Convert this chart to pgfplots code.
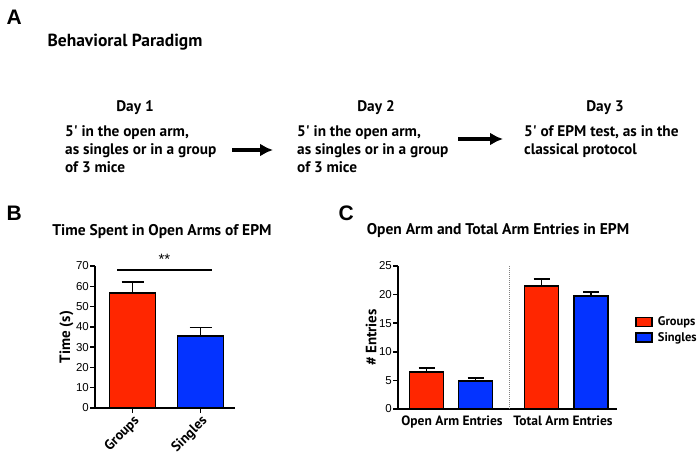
\documentclass[border=0pt]{standalone}
\usepackage{pgfplots}
\pgfplotsset{compat=1.18}
\usetikzlibrary{arrows.meta}
\usepackage{fontspec}
\setmainfont{PT Sans}
\newfontfamily\arialf{Liberation Sans}
\definecolor{gred}{HTML}{FF2600}
\definecolor{gblue}{HTML}{0433FF}
\newcommand{\q}{\textquotesingle}
\begin{document}
\begin{tikzpicture}
\useasboundingbox (0,0) rectangle (700pt,-455pt);
% Panel A
\node[anchor=west,font=\arialf\bfseries\fontsize{21}{24}\selectfont] at (3pt,-17pt) {A};
\node[anchor=west,font=\bfseries\fontsize{17.5}{20}\selectfont] at (44pt,-42pt) {Behavioral Paradigm};
\begin{scope}[every node/.style={font=\bfseries\fontsize{15.3}{18}\selectfont}]
\node at (135pt,-108pt) {Day 1};
\node at (376pt,-108pt) {Day 2};
\node at (605pt,-108pt) {Day 3};
\node[anchor=north west,align=left,inner sep=0pt] at (65pt,-125pt) {5\q\ in the open arm,\\as singles or in a group\\of 3 mice};
\node[anchor=north west,align=left,inner sep=0pt] at (297pt,-125pt) {5\q\ in the open arm,\\as singles or in a group\\of 3 mice};
\node[anchor=north west,align=left,inner sep=0pt] at (524pt,-125pt) {5\q\ of EPM test, as in the\\classical protocol};
\end{scope}
\draw[line width=4pt,-{Latex[length=13pt,width=13pt]}] (232pt,-150pt) -- (273pt,-150pt);
\draw[line width=4pt,-{Latex[length=13pt,width=13pt]}] (458pt,-139pt) -- (503pt,-139pt);
% Panel labels
\node[anchor=west,font=\arialf\bfseries\fontsize{21}{24}\selectfont] at (3pt,-213pt) {B};
\node[anchor=west,font=\arialf\bfseries\fontsize{21}{24}\selectfont] at (335pt,-213pt) {C};
\node[font=\bfseries\fontsize{15.5}{18}\selectfont] at (162pt,-232pt) {Time Spent in Open Arms of EPM};
\node[font=\bfseries\fontsize{15.5}{18}\selectfont] at (498pt,-231pt) {Open Arm and Total Arm Entries in EPM};
% Panel B
\begin{axis}[
  at={(95pt,-408pt)}, anchor=south west,
  scale only axis, width=140pt, height=142pt,
  xmin=-0.5515, xmax=1.507, ymin=0, ymax=70,
  axis lines=left, axis line style={-, line width=1.8pt},
  clip=false,
  ytick={0,10,...,70}, xtick={0,1},
  xticklabels={Groups,Singles},
  tick align=outside, major tick length=5pt,
  tick style={line width=1.5pt, black},
  yticklabel style={font=\arialf\fontsize{11.5}{13}\selectfont, inner sep=1pt},
  xticklabel style={font=\bfseries\fontsize{14}{16}\selectfont, rotate=45, anchor=north east, inner sep=1pt},
  /pgf/number format/assume math mode=true,
  ylabel={Time (s)},
  ylabel style={font=\bfseries\fontsize{15}{17}\selectfont, yshift=-2pt},
  ybar, bar width=46pt,
]
\addplot[bar shift=0pt, fill=gred, draw=black, line width=1.8pt,
  error bars/.cd, y dir=plus, y explicit,
  error bar style={line width=1.8pt},
  error mark options={rotate=90, mark size=11pt, line width=1.8pt}]
  coordinates {(0,56.6) +- (0,5.4)};
\addplot[bar shift=0pt, fill=gblue, draw=black, line width=1.8pt,
  error bars/.cd, y dir=plus, y explicit,
  error bar style={line width=1.8pt},
  error mark options={rotate=90, mark size=11pt, line width=1.8pt}]
  coordinates {(1,35.6) +- (0,4.1)};
\draw[line width=1.8pt] (axis cs:-0.228,68.1) -- (axis cs:1.169,68.1);
\node[font=\arialf\fontsize{15}{16}\selectfont] at (axis cs:0.47,73.3) {**};
\end{axis}
% Panel C
\begin{axis}[
  at={(398pt,-409pt)}, anchor=south west,
  scale only axis, width=219pt, height=143pt,
  xmin=0, xmax=219, ymin=0, ymax=25,
  axis lines=left, axis line style={-, line width=1.8pt},
  clip=false,
  ytick={0,5,...,25}, xtick={54,165},
  xticklabels={Open Arm Entries,Total Arm Entries},
  tick align=outside, major tick length=5pt,
  x tick style={draw=none},
  tick style={line width=1.5pt, black},
  yticklabel style={font=\arialf\fontsize{11.5}{13}\selectfont, inner sep=1pt},
  xticklabel style={font=\bfseries\fontsize{13.5}{15}\selectfont, inner sep=2pt},
  /pgf/number format/assume math mode=true,
  ylabel={\# Entries},
  ylabel style={font=\bfseries\fontsize{15}{17}\selectfont, yshift=-2pt},
  ybar, bar width=34pt,
  legend style={draw=none, fill=none, at={(1.082,0.675)}, anchor=north west,
    font=\bfseries\fontsize{12.5}{15}\selectfont, row sep=1pt, inner xsep=0pt},
  legend cell align=left,
  legend image code/.code={\draw[#1, line width=1.5pt] (0pt,-4.5pt) rectangle (16pt,4.5pt);\path[draw=none,fill=none] (0pt,0pt) -- (20pt,0pt);},
]
\addplot[bar shift=0pt, fill=gred, draw=black, line width=1.8pt,
  error bars/.cd, y dir=plus, y explicit,
  error bar style={line width=1.8pt},
  error mark options={rotate=90, mark size=8pt, line width=1.8pt}]
  coordinates {(28.5,6.5) +- (0,0.6) (143.5,21.5) +- (0,1.2)};
\addlegendentry{Groups}
\addplot[bar shift=0pt, fill=gblue, draw=black, line width=1.8pt,
  error bars/.cd, y dir=plus, y explicit,
  error bar style={line width=1.8pt},
  error mark options={rotate=90, mark size=8pt, line width=1.8pt}]
  coordinates {(77.5,4.9) +- (0,0.5) (193,19.7) +- (0,0.75)};
\addlegendentry{Singles}
\draw[densely dotted, gray, line width=1pt] (axis cs:111,0) -- (axis cs:111,25);
\end{axis}
\end{tikzpicture}
\end{document}
